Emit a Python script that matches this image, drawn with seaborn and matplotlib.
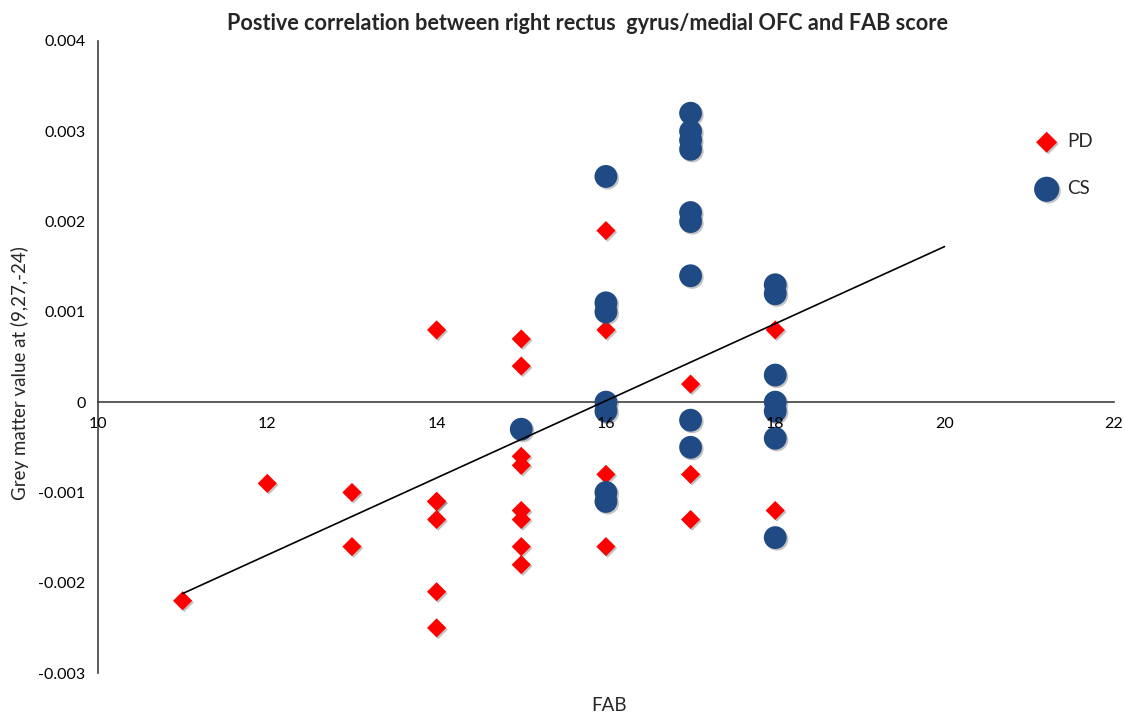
import matplotlib
matplotlib.use("Agg")
import matplotlib.pyplot as plt
import matplotlib.patheffects as pe
import numpy as np
import pandas as pd
import seaborn as sns

# PD group (red diamonds)
pd_fab = [11, 12, 13, 13, 14, 14, 14, 14, 14, 14,
          15, 15, 15, 15, 15, 15, 15, 15,
          16, 16, 16, 16, 17, 17, 17, 18, 18]
pd_gm = [-0.0022, -0.0009, -0.0010, -0.0016, 0.0008, -0.0011, -0.0011, -0.0013, -0.0021, -0.0025,
         0.0007, 0.0004, -0.0006, -0.0007, -0.0012, -0.0013, -0.0016, -0.0018,
         0.0019, 0.0008, -0.0008, -0.0016, 0.0002, -0.0008, -0.0013, 0.0008, -0.0012]

# CS group (blue circles)
cs_fab = [15,
          16, 16, 16, 16, 16, 16, 16,
          17, 17, 17, 17, 17, 17, 17, 17, 17,
          18, 18, 18, 18, 18, 18, 18]
cs_gm = [-0.0003,
         0.0025, 0.0011, 0.0010, 0.0000, -0.0001, -0.0010, -0.0011,
         0.0032, 0.0030, 0.0029, 0.0028, 0.0021, 0.0020, 0.0014, -0.0002, -0.0005,
         0.0013, 0.0012, 0.0003, 0.0000, -0.0001, -0.0004, -0.0015]

# linear trend line, drawn between FAB 11 and 20
trend_x = [11, 20]
trend_slope = 0.000427
trend_icpt = -0.006817

x_ticks = [10, 12, 14, 16, 18, 20, 22]
y_ticks = [-0.003, -0.002, -0.001, 0, 0.001, 0.002, 0.003, 0.004]

sns.set_style("white")
plt.rcParams['font.family'] = ['Lato', 'DejaVu Sans']

df_pd = pd.DataFrame({"FAB": pd_fab, "GM": pd_gm})
df_cs = pd.DataFrame({"FAB": cs_fab, "GM": cs_gm})

fig = plt.figure(figsize=(11.25, 7.14), dpi=100)
ax = fig.add_axes([0.0871, 0.0574, 0.9030, 0.8852])

shadow = [pe.SimplePatchShadow(offset=(1.2, -1.2), alpha=0.35, shadow_rgbFace='#555555'), pe.Normal()]

sns.scatterplot(data=df_pd, x="FAB", y="GM", marker="D", s=95, color="#FF0000",
                edgecolor="#FF0000", linewidth=0, ax=ax, label="PD", zorder=3)
sns.scatterplot(data=df_cs, x="FAB", y="GM", marker="o", s=270, color="#1F4A83",
                edgecolor="#1F4A83", linewidth=0, ax=ax, label="CS", zorder=3)
for coll in ax.collections:
    coll.set_path_effects(shadow)

tx = np.array(trend_x, dtype=float)
ax.plot(tx, trend_slope * tx + trend_icpt, color="black", lw=1.2, zorder=4)

ax.set_xlim(10, 22)
ax.set_ylim(-0.003, 0.004)
ax.set_xticks(x_ticks)
ax.set_yticks(y_ticks)
ax.set_xticklabels([str(t) for t in x_ticks])
ax.set_yticklabels(["-0.003", "-0.002", "-0.001", "0", "0.001", "0.002", "0.003", "0.004"])

for sp in ["top", "right"]:
    ax.spines[sp].set_visible(False)
ax.spines["bottom"].set_position(("data", 0))
for sp in ["bottom", "left"]:
    ax.spines[sp].set_color("#404040")
    ax.spines[sp].set_linewidth(1.2)

ax.tick_params(axis="both", direction="out", length=5, width=1, color="#404040",
               labelsize=11.5, labelcolor="black")
ax.tick_params(axis="x", pad=6)
ax.tick_params(axis="y", pad=4)
# tick labels sit on top of the markers, the axis line stays below
ax.xaxis.set_zorder(5)

ax.set_xlabel("")
ax.set_ylabel("Grey matter value at (9,27,-24)", fontsize=13.5)
ax.yaxis.set_label_coords(-0.068, 0.475)
fig.text(0.541, 0.0126, "FAB", fontsize=13.5, ha="center", va="center")

ax.set_title("Postive correlation between right rectus  gyrus/medial OFC and FAB score",
             fontsize=15.6, fontweight="bold", pad=8, x=0.482)

leg = ax.legend(loc="upper left", bbox_to_anchor=(0.908, 0.866), frameon=False,
                fontsize=13.5, labelspacing=1.6, handletextpad=0.1, borderaxespad=0,
                markerscale=1.1)

fig.savefig("out.png", dpi=100)
